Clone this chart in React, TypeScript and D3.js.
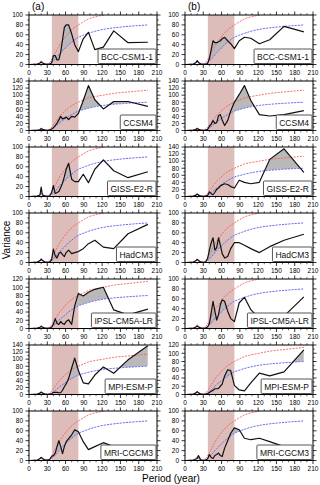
import React from "react";
import * as d3 from "d3";

const PERIODS = [2, 8, 14, 18, 20, 22, 26, 30, 34, 37, 40, 43, 46, 49, 52, 55, 58, 61, 65, 70, 75, 81, 89, 97.5, 108, 122, 139, 162.5, 195];
const RED = [0, 0.5, 1, 4, 8, 5, 2, 1.5, 4, 9, 16, 23, 30, 37, 43, 48, 53, 58, 64, 70, 75, 80, 86, 92, 96, 100, 105, 109, 114];
const BLUE = [0, 0.3, 0.8, 2.5, 5, 3.5, 1.5, 1, 2, 4, 7, 11, 15, 20, 24, 28, 31, 35, 40, 45, 50, 55, 59, 63, 67, 71, 74, 77, 80];

const BCC_A = [0, 0.5, 1, 3, 5, 3, 1, 0.5, 1, 3, 18, 18, 9, 10, 25, 50, 75, 80, 80, 62, 40, 26, 52, 65, 30, 35, 68, 44, 45];
const CCSM4_A = [0, 0.5, 1, 2, 5, 3, 1, 0.5, 1, 4, 8, 14, 21, 30, 40, 33, 35, 38, 31, 40, 38, 48, 85, 127, 87, 61, 82, 82, 68];
const GISS_A = [0, 0.5, 1, 3, 19, 3, 1, 0.5, 1, 8, 22, 6, 8, 10, 18, 27, 40, 55, 67, 35, 30, 30, 45, 28, 55, 74, 52, 38, 50];
const HADCM3_A = [0, 0.5, 1, 4, 7, 4, 1, 0.5, 1, 5, 27, 14, 9, 18, 21, 16, 12, 20, 25, 18, 20, 22, 28, 38, 45, 31, 28, 58, 77];
const IPSL_A = [0, 0.5, 1, 3, 5, 3, 1, 0.5, 1, 3, 10, 24, 12, 10, 17, 12, 10, 17, 21, 10, 55, 85, 79, 88, 95, 100, 45, 33, 47];
const MPI_A = [0, 0.5, 1, 4, 7, 4, 1, 0.5, 1, 2, 6, 6, 6, 5, 5, 12, 22, 30, 45, 75, 103, 68, 33, 30, 55, 78, 60, 98, 138];
const MRI_A = [0, 0.5, 1, 4, 6, 4, 1, 1, 2, 8, 10, 15, 28, 40, 28, 14, 28, 38, 44, 52, 62, 58, 38, 22, 28, 36, 28, 24, 22];

const BCC_B = [0, 0.5, 1, 4, 8, 4, 1, 0.5, 1, 2, 12, 30, 48, 44, 44, 46, 48, 52, 55, 48, 42, 32, 48, 55, 53, 42, 50, 77, 66];
const CCSM4_B = [0, 0.5, 1, 3, 6, 3, 1, 0.5, 1, 3, 12, 18, 28, 20, 22, 42, 45, 30, 14, 28, 55, 80, 102, 127, 85, 45, 41, 45, 56];
const GISS_B = [0, 0.5, 1, 4, 7, 4, 1, 0.5, 1, 3, 13, 8, 5, 12, 20, 24, 30, 33, 36, 34, 28, 24, 46, 40, 36, 40, 105, 135, 68];
const HADCM3_B = [0, 0.5, 1, 4, 6, 4, 1, 0.5, 1, 8, 25, 40, 50, 25, 30, 50, 35, 18, 9, 12, 28, 40, 40, 35, 28, 20, 32, 45, 57];
const IPSL_B = [0, 0.5, 1, 3, 5, 3, 1, 0.5, 1, 3, 10, 32, 55, 35, 17, 28, 48, 58, 55, 35, 20, 14, 52, 63, 38, 20, 15, 25, 64];
const MPI_B = [0, 0.5, 1, 4, 7, 4, 1, 0.5, 1, 2, 5, 8, 10, 14, 14, 15, 20, 25, 45, 60, 58, 22, 11, 9, 28, 52, 45, 55, 108];
const MRI_B = [0, 0.5, 1, 3, 4, 10, 1, 0.5, 1, 3, 12, 6, 4, 10, 12, 15, 10, 8, 25, 40, 55, 66, 62, 45, 42, 45, 38, 28, 30];

const MODELS = ["BCC-CSM1-1", "CCSM4", "GISS-E2-R", "HadCM3", "IPSL-CM5A-LR", "MPI-ESM-P", "MRI-CGCM3"];
const SERIES_A = [BCC_A, CCSM4_A, GISS_A, HADCM3_A, IPSL_A, MPI_A, MRI_A];
const SERIES_B = [BCC_B, CCSM4_B, GISS_B, HADCM3_B, IPSL_B, MPI_B, MRI_B];
const YMAX_A = [100, 140, 100, 100, 120, 140, 100];
const YMAX_B = [100, 140, 140, 100, 100, 120, 100];
const X_TICKS = [0, 30, 60, 90, 120, 150, 180, 210];
const BAND = [37.5, 81];
const COL_LABELS = ["(a)", "(b)"];

const FONT = "'Liberation Sans', Arial, Helvetica, sans-serif";
const COL_X = [29, 185];
const PW = 128;
const PH = 49.5;
const ROW0 = 15;
const ROW_STEP = 66;

function textWidth(t: string, size: number) {
  if (typeof document === "undefined") return t.length * size * 0.6;
  const c = document.createElement("canvas");
  const ctx = c.getContext("2d");
  if (!ctx) return t.length * size * 0.6;
  ctx.font = `${size}px ${FONT}`;
  return ctx.measureText(t).width;
}

function Panel({ col, row, values, ymax, name }: any) {
  const x0 = COL_X[col];
  const top = ROW0 + ROW_STEP * row;
  const x = d3.scaleLinear().domain([0, 210]).range([x0, x0 + PW]);
  const y = d3.scaleLinear().domain([0, ymax]).range([top + PH, top]);
  const id = `p${col}_${row}`;
  const idx = PERIODS.map((_, i) => i);
  const line = (arr: number[], curve: any) =>
    d3.line<number>().x((i) => x(PERIODS[i])).y((i) => y(arr[i])).curve(curve)(idx) || "";
  const fill =
    d3.area<number>().x((i) => x(PERIODS[i])).y0((i) => y(BLUE[i])).y1((i) => y(values[i]))(idx) || "";
  const aboveBlue =
    d3.area<number>().x((i) => x(PERIODS[i])).y0((i) => y(BLUE[i])).y1(() => top - 50)(idx) || "";
  const yTicks = d3.range(0, ymax + 1, 20);
  const yMinor = d3.range(10, ymax, 20);
  const xMinor = d3.range(0, 211, 10).filter((v) => v % 30 !== 0);
  const bottom = top + PH;
  const right = x0 + PW;
  const fs = 8.5;
  const tw = textWidth(name, fs);
  const bw = tw + 6;
  const bh = 14.5;
  const bx = right - 1 - bw;
  const by = bottom - 1 - bh;
  return (
    <g>
      <defs>
        <clipPath id={`clip_${id}`}>
          <rect x={x0} y={top} width={PW} height={PH} />
        </clipPath>
        <clipPath id={`blue_${id}`}>
          <path d={aboveBlue} />
        </clipPath>
      </defs>
      <rect x={x(BAND[0])} y={top} width={x(BAND[1]) - x(BAND[0])} height={PH} fill="#dcbdb9" />
      <g clipPath={`url(#clip_${id})`}>
        <path d={fill} fill="#b9b9b9" clipPath={`url(#blue_${id})`} />
        <path d={line(RED, d3.curveMonotoneX)} fill="none" stroke="#ff5a5a" strokeWidth={0.9} strokeDasharray="2,1.2" />
        <path d={line(BLUE, d3.curveMonotoneX)} fill="none" stroke="#5a5aff" strokeWidth={0.9} strokeDasharray="2,1.2" />
        <path d={line(values, d3.curveLinear)} fill="none" stroke="#111" strokeWidth={1.2} strokeLinejoin="round" />
      </g>
      <rect x={x0} y={top} width={PW} height={PH} fill="none" stroke="#000" strokeWidth={1} />
      {X_TICKS.map((t) => (
        <g key={`xt${t}`}>
          <line x1={x(t)} x2={x(t)} y1={bottom} y2={bottom + 3.5} stroke="#000" strokeWidth={0.8} />
          <line x1={x(t)} x2={x(t)} y1={top} y2={top - 3.5} stroke="#000" strokeWidth={0.8} />
          <text x={x(t)} y={bottom + 10.5} fontSize={6.5} textAnchor="middle" fontFamily={FONT}>
            {t}
          </text>
        </g>
      ))}
      {xMinor.map((t) => (
        <g key={`xm${t}`}>
          <line x1={x(t)} x2={x(t)} y1={bottom} y2={bottom + 1.8} stroke="#000" strokeWidth={0.6} />
          <line x1={x(t)} x2={x(t)} y1={top} y2={top - 1.8} stroke="#000" strokeWidth={0.6} />
        </g>
      ))}
      {yTicks.map((t) => (
        <g key={`yt${t}`}>
          <line x1={x0} x2={x0 - 3.5} y1={y(t)} y2={y(t)} stroke="#000" strokeWidth={0.8} />
          <line x1={right} x2={right + 3.5} y1={y(t)} y2={y(t)} stroke="#000" strokeWidth={0.8} />
          <text x={x0 - 6} y={y(t) + 2.3} fontSize={6.5} textAnchor="end" fontFamily={FONT}>
            {t}
          </text>
        </g>
      ))}
      {yMinor.map((t) => (
        <g key={`ym${t}`}>
          <line x1={x0} x2={x0 - 1.8} y1={y(t)} y2={y(t)} stroke="#000" strokeWidth={0.6} />
          <line x1={right} x2={right + 1.8} y1={y(t)} y2={y(t)} stroke="#000" strokeWidth={0.6} />
        </g>
      ))}
      <rect x={bx} y={by} width={bw} height={bh} fill="#fff" stroke="#444" strokeWidth={0.9} rx={1} />
      <text x={bx + 3} y={by + 10.5} fontSize={fs} fontFamily={FONT} fill="#111">
        {name}
      </text>
    </g>
  );
}

export default function App() {
  return (
    <svg
      width={320}
      height={485}
      viewBox="0 0 320 485"
      style={{ position: "absolute", left: 0, top: 0, background: "#fff" }}
    >
      <rect x={0} y={0} width={320} height={485} fill="#fff" />
      {MODELS.map((m, r) => (
        <Panel key={`a${r}`} col={0} row={r} values={SERIES_A[r]} ymax={YMAX_A[r]} name={m} />
      ))}
      {MODELS.map((m, r) => (
        <Panel key={`b${r}`} col={1} row={r} values={SERIES_B[r]} ymax={YMAX_B[r]} name={m} />
      ))}
      {COL_LABELS.map((l, i) => (
        <text key={l} x={COL_X[i] + 3} y={10} fontSize={10} fontFamily={FONT}>
          {l}
        </text>
      ))}
      <text
        transform="translate(9.5,240) rotate(-90)"
        fontSize={10}
        textAnchor="middle"
        fontFamily={FONT}
      >
        Variance
      </text>
      <text x={171} y={482} fontSize={10} textAnchor="middle" fontFamily={FONT}>
        Period (year)
      </text>
    </svg>
  );
}
